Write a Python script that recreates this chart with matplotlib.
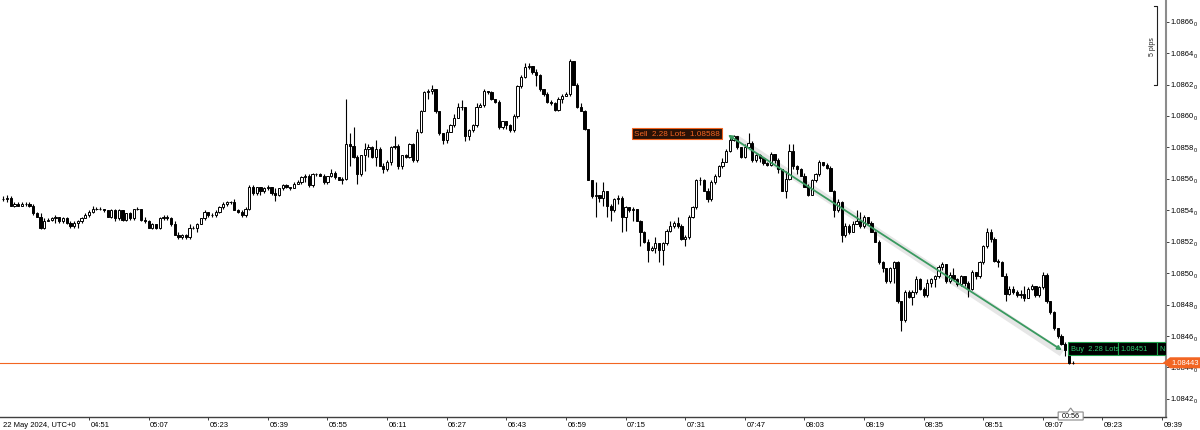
import numpy as np
import matplotlib.pyplot as plt
from matplotlib.patches import Polygon, Rectangle
from matplotlib.lines import Line2D
from matplotlib.transforms import IdentityTransform, ScaledTranslation

plt.rcParams['font.family'] = ['Liberation Sans', 'DejaVu Sans']

# EURUSD M1, one bar per minute starting at 04:28
first_bar = "04:28"
first_open = 1.08547
closes = [
    1.08547, 1.08548, 1.08543, 1.08544, 1.08543, 1.08544, 1.08544, 1.08543, 1.08538, 1.08536,
    1.08529, 1.08533, 1.08534, 1.08535, 1.08536, 1.08533, 1.08535, 1.08532, 1.08530, 1.08532,
    1.08533, 1.08535, 1.08537, 1.08539, 1.08541, 1.08541, 1.08541, 1.08540, 1.08536, 1.08540,
    1.08535, 1.08540, 1.08534, 1.08538, 1.08535, 1.08541, 1.08541, 1.08534, 1.08533, 1.08529,
    1.08531, 1.08529, 1.08535, 1.08536, 1.08535, 1.08531, 1.08524, 1.08523, 1.08524, 1.08523,
    1.08529, 1.08529, 1.08531, 1.08535, 1.08539, 1.08537, 1.08537, 1.08539, 1.08542, 1.08544,
    1.08545, 1.08545, 1.08540, 1.08539, 1.08537, 1.08541, 1.08555, 1.08551, 1.08555, 1.08552,
    1.08554, 1.08555, 1.08551, 1.08550, 1.08554, 1.08556, 1.08555, 1.08554, 1.08557, 1.08558,
    1.08561, 1.08562, 1.08556, 1.08563, 1.08563, 1.08562, 1.08558, 1.08562, 1.08564, 1.08561,
    1.08559, 1.08560, 1.08582, 1.08581, 1.08574, 1.08563, 1.08575, 1.08579, 1.08580, 1.08574,
    1.08579, 1.08568, 1.08566, 1.08571, 1.08580, 1.08581, 1.08568, 1.08575, 1.08574, 1.08582,
    1.08572, 1.08590, 1.08603, 1.08615, 1.08616, 1.08617, 1.08603, 1.08589, 1.08585, 1.08590,
    1.08594, 1.08599, 1.08606, 1.08606, 1.08587, 1.08591, 1.08594, 1.08606, 1.08607, 1.08616,
    1.08615, 1.08611, 1.08609, 1.08593, 1.08597, 1.08594, 1.08591, 1.08600, 1.08619, 1.08625,
    1.08631, 1.08632, 1.08628, 1.08626, 1.08617, 1.08614, 1.08609, 1.08608, 1.08604, 1.08611,
    1.08613, 1.08614, 1.08635, 1.08620, 1.08606, 1.08603, 1.08592, 1.08559, 1.08549, 1.08550,
    1.08548, 1.08552, 1.08543, 1.08540, 1.08547, 1.08548, 1.08536, 1.08542, 1.08540, 1.08541,
    1.08533, 1.08526, 1.08520, 1.08515, 1.08516, 1.08519, 1.08515, 1.08519, 1.08527, 1.08530,
    1.08532, 1.08530, 1.08522, 1.08523, 1.08536, 1.08542, 1.08559, 1.08559, 1.08552, 1.08547,
    1.08558, 1.08562, 1.08568, 1.08571, 1.08578, 1.08585, 1.08587, 1.08580, 1.08574, 1.08580,
    1.08583, 1.08572, 1.08575, 1.08573, 1.08570, 1.08569, 1.08576, 1.08572, 1.08566, 1.08552,
    1.08560, 1.08578, 1.08568, 1.08566, 1.08562, 1.08555, 1.08550, 1.08559, 1.08563, 1.08571,
    1.08569, 1.08567, 1.08552, 1.08540, 1.08545, 1.08524, 1.08530, 1.08526, 1.08531, 1.08533,
    1.08530, 1.08536, 1.08532, 1.08526, 1.08520, 1.08507, 1.08503, 1.08495, 1.08503, 1.08507,
    1.08482, 1.08470, 1.08488, 1.08485, 1.08488, 1.08496, 1.08490, 1.08486, 1.08494, 1.08496,
    1.08498, 1.08504, 1.08506, 1.08495, 1.08499, 1.08496, 1.08493, 1.08498, 1.08494, 1.08490,
    1.08501, 1.08498, 1.08507, 1.08517, 1.08526, 1.08522, 1.08508, 1.08507, 1.08498, 1.08487,
    1.08490, 1.08488, 1.08486, 1.08487, 1.08484, 1.08490, 1.08492, 1.08486, 1.08491, 1.08499,
    1.08482, 1.08475, 1.08465, 1.08460, 1.08455, 1.08451, 1.08443, 1.08443,
]
highs = [
    1.08549, 1.08550, 1.08549, 1.08545, 1.08545, 1.08545, 1.08545, 1.08545, 1.08544, 1.08539,
    1.08538, 1.08535, 1.08535, 1.08536, 1.08537, 1.08536, 1.08536, 1.08536, 1.08533, 1.08533,
    1.08534, 1.08536, 1.08538, 1.08540, 1.08543, 1.08542, 1.08542, 1.08541, 1.08540, 1.08541,
    1.08541, 1.08541, 1.08540, 1.08538, 1.08539, 1.08541, 1.08542, 1.08541, 1.08536, 1.08534,
    1.08532, 1.08531, 1.08536, 1.08537, 1.08537, 1.08536, 1.08533, 1.08526, 1.08525, 1.08525,
    1.08531, 1.08530, 1.08532, 1.08535, 1.08540, 1.08539, 1.08538, 1.08540, 1.08543, 1.08545,
    1.08546, 1.08546, 1.08547, 1.08541, 1.08540, 1.08542, 1.08556, 1.08556, 1.08555, 1.08555,
    1.08555, 1.08556, 1.08555, 1.08554, 1.08554, 1.08557, 1.08557, 1.08555, 1.08558, 1.08559,
    1.08562, 1.08563, 1.08563, 1.08564, 1.08564, 1.08564, 1.08563, 1.08562, 1.08566, 1.08565,
    1.08561, 1.08561, 1.08611, 1.08589, 1.08593, 1.08575, 1.08575, 1.08583, 1.08582, 1.08581,
    1.08585, 1.08580, 1.08570, 1.08572, 1.08581, 1.08587, 1.08582, 1.08575, 1.08576, 1.08583,
    1.08583, 1.08592, 1.08604, 1.08616, 1.08617, 1.08620, 1.08617, 1.08603, 1.08589, 1.08592,
    1.08595, 1.08601, 1.08608, 1.08610, 1.08606, 1.08592, 1.08595, 1.08608, 1.08608, 1.08617,
    1.08616, 1.08616, 1.08611, 1.08610, 1.08597, 1.08597, 1.08595, 1.08601, 1.08620, 1.08626,
    1.08634, 1.08634, 1.08632, 1.08630, 1.08627, 1.08617, 1.08615, 1.08610, 1.08609, 1.08612,
    1.08614, 1.08615, 1.08636, 1.08635, 1.08621, 1.08608, 1.08604, 1.08592, 1.08559, 1.08558,
    1.08550, 1.08558, 1.08552, 1.08544, 1.08548, 1.08550, 1.08549, 1.08543, 1.08542, 1.08542,
    1.08541, 1.08534, 1.08527, 1.08522, 1.08517, 1.08523, 1.08519, 1.08520, 1.08528, 1.08533,
    1.08533, 1.08536, 1.08531, 1.08524, 1.08537, 1.08543, 1.08560, 1.08561, 1.08560, 1.08554,
    1.08559, 1.08563, 1.08569, 1.08573, 1.08579, 1.08587, 1.08588, 1.08587, 1.08580, 1.08582,
    1.08589, 1.08584, 1.08576, 1.08576, 1.08573, 1.08571, 1.08577, 1.08576, 1.08573, 1.08566,
    1.08565, 1.08582, 1.08582, 1.08569, 1.08567, 1.08564, 1.08557, 1.08560, 1.08564, 1.08572,
    1.08571, 1.08570, 1.08568, 1.08553, 1.08547, 1.08546, 1.08532, 1.08531, 1.08533, 1.08540,
    1.08539, 1.08537, 1.08536, 1.08533, 1.08527, 1.08521, 1.08508, 1.08503, 1.08504, 1.08508,
    1.08508, 1.08482, 1.08489, 1.08489, 1.08489, 1.08498, 1.08497, 1.08491, 1.08496, 1.08497,
    1.08499, 1.08505, 1.08507, 1.08506, 1.08501, 1.08503, 1.08497, 1.08499, 1.08498, 1.08495,
    1.08502, 1.08501, 1.08508, 1.08518, 1.08529, 1.08528, 1.08523, 1.08509, 1.08508, 1.08500,
    1.08492, 1.08492, 1.08489, 1.08489, 1.08492, 1.08491, 1.08493, 1.08492, 1.08492, 1.08501,
    1.08500, 1.08482, 1.08476, 1.08465, 1.08461, 1.08456, 1.08451, 1.08444,
]
lows = [
    1.08546, 1.08545, 1.08543, 1.08542, 1.08543, 1.08543, 1.08543, 1.08542, 1.08537, 1.08536,
    1.08528, 1.08528, 1.08533, 1.08533, 1.08532, 1.08532, 1.08532, 1.08531, 1.08529, 1.08529,
    1.08529, 1.08532, 1.08535, 1.08536, 1.08538, 1.08540, 1.08540, 1.08539, 1.08536, 1.08535,
    1.08533, 1.08534, 1.08533, 1.08533, 1.08534, 1.08534, 1.08540, 1.08533, 1.08532, 1.08529,
    1.08528, 1.08528, 1.08528, 1.08534, 1.08534, 1.08530, 1.08524, 1.08522, 1.08522, 1.08522,
    1.08522, 1.08528, 1.08526, 1.08531, 1.08534, 1.08536, 1.08536, 1.08536, 1.08538, 1.08541,
    1.08543, 1.08544, 1.08540, 1.08538, 1.08536, 1.08536, 1.08540, 1.08550, 1.08550, 1.08550,
    1.08551, 1.08553, 1.08550, 1.08546, 1.08549, 1.08553, 1.08554, 1.08553, 1.08554, 1.08557,
    1.08557, 1.08558, 1.08555, 1.08555, 1.08562, 1.08562, 1.08557, 1.08557, 1.08561, 1.08560,
    1.08559, 1.08557, 1.08559, 1.08568, 1.08573, 1.08557, 1.08562, 1.08565, 1.08574, 1.08573,
    1.08568, 1.08568, 1.08564, 1.08565, 1.08569, 1.08579, 1.08566, 1.08566, 1.08573, 1.08573,
    1.08571, 1.08571, 1.08589, 1.08603, 1.08611, 1.08614, 1.08602, 1.08588, 1.08582, 1.08583,
    1.08590, 1.08593, 1.08599, 1.08604, 1.08584, 1.08585, 1.08590, 1.08593, 1.08606, 1.08606,
    1.08614, 1.08610, 1.08608, 1.08592, 1.08592, 1.08592, 1.08590, 1.08590, 1.08599, 1.08618,
    1.08624, 1.08630, 1.08627, 1.08619, 1.08616, 1.08613, 1.08608, 1.08607, 1.08603, 1.08603,
    1.08608, 1.08613, 1.08613, 1.08620, 1.08605, 1.08603, 1.08591, 1.08559, 1.08548, 1.08536,
    1.08545, 1.08543, 1.08536, 1.08533, 1.08539, 1.08544, 1.08526, 1.08527, 1.08539, 1.08533,
    1.08533, 1.08517, 1.08519, 1.08507, 1.08514, 1.08513, 1.08507, 1.08505, 1.08518, 1.08526,
    1.08529, 1.08529, 1.08521, 1.08517, 1.08522, 1.08535, 1.08541, 1.08556, 1.08552, 1.08545,
    1.08546, 1.08557, 1.08561, 1.08567, 1.08571, 1.08577, 1.08584, 1.08579, 1.08573, 1.08573,
    1.08580, 1.08571, 1.08571, 1.08571, 1.08569, 1.08568, 1.08568, 1.08570, 1.08564, 1.08552,
    1.08548, 1.08559, 1.08566, 1.08563, 1.08562, 1.08555, 1.08549, 1.08550, 1.08558, 1.08562,
    1.08568, 1.08566, 1.08552, 1.08536, 1.08539, 1.08520, 1.08523, 1.08525, 1.08526, 1.08531,
    1.08529, 1.08529, 1.08531, 1.08526, 1.08520, 1.08506, 1.08501, 1.08494, 1.08494, 1.08494,
    1.08481, 1.08463, 1.08469, 1.08484, 1.08480, 1.08487, 1.08489, 1.08485, 1.08485, 1.08491,
    1.08491, 1.08497, 1.08502, 1.08494, 1.08494, 1.08496, 1.08492, 1.08492, 1.08492, 1.08485,
    1.08489, 1.08496, 1.08497, 1.08506, 1.08516, 1.08520, 1.08507, 1.08504, 1.08498, 1.08482,
    1.08486, 1.08487, 1.08485, 1.08484, 1.08482, 1.08484, 1.08489, 1.08485, 1.08485, 1.08490,
    1.08481, 1.08474, 1.08464, 1.08459, 1.08454, 1.08447, 1.08442, 1.08442,
]

date_label = "22 May 2024, UTC+0"
time_ticks = ["04:51", "05:07", "05:23", "05:39", "05:55", "06:11", "06:27", "06:43",
              "06:59", "07:15", "07:31", "07:47", "08:03", "08:19", "08:35", "08:51",
              "09:07", "09:23", "09:39"]
price_ticks = [1.0842, 1.0844, 1.0846, 1.0848, 1.0850, 1.0852, 1.0854,
               1.0856, 1.0858, 1.0860, 1.0862, 1.0864, 1.0866]

sell_time, sell_price = "07:42:30", 1.08588
buy_time, buy_price = "09:12:06", 1.08451
lots = 2.28
net_profit = 312.36
bid = 1.08443
bar_timer = "00:56"
pip_top, pip_bottom = 1.08670, 1.08620

ORANGE = '#f26522'
GREEN = '#3a9a60'
FS = 5.5


def bar_index(t):
    parts = [int(p) for p in t.split(":")]
    secs = parts[2] if len(parts) > 2 else 0
    h0, m0 = [int(p) for p in first_bar.split(":")]
    return parts[0] * 60 + parts[1] + secs / 60 - (h0 * 60 + m0)


W, H = 1200, 431
fig = plt.figure(figsize=(W / 100, H / 100), dpi=100)
ax = fig.add_axes([0, 13 / H, 1166 / W, 418 / H])
ax.set_xlim(-0.89, 312.05)
ax.set_ylim(1.084085, 1.086744)

c = np.array(closes)
hi = np.array(highs)
lo = np.array(lows)
o = np.concatenate([[first_open], c[:-1]])
idx = np.arange(len(c))
up = c >= o

ax.vlines(idx, lo, hi, color='black', lw=0.8, zorder=2)
ax.bar(idx[up], (c - o)[up], bottom=o[up], width=0.6, color='white',
       edgecolor='black', lw=0.7, zorder=3)
ax.bar(idx[~up], (o - c)[~up], bottom=c[~up], width=0.6, color='black',
       edgecolor='black', lw=0.7, zorder=3)

ax.axhline(bid, color=ORANGE, lw=0.8, zorder=1.5)

# axes look
for s in ['top', 'left']:
    ax.spines[s].set_visible(False)
ax.spines['right'].set_color('#8c8c8c')
ax.spines['right'].set_linewidth(1.5)
ax.spines['bottom'].set_color('#404040')
ax.spines['bottom'].set_linewidth(1.0)
ax.yaxis.tick_right()
ax.set_yticks(price_ticks)
ax.tick_params(axis='y', direction='out', length=2.5, width=0.7, color='#404040',
               labelright=False, labelleft=False)
ax.set_xticks([bar_index(t) for t in time_ticks])
ax.tick_params(axis='x', direction='out', length=2.5, width=0.7, color='#404040',
               labelbottom=False)

for t in time_ticks:
    ax.annotate(t, xy=(bar_index(t), 0), xycoords=('data', 'axes fraction'),
                xytext=(1.5, -4), textcoords='offset pixels', ha='left', va='top',
                fontsize=FS, annotation_clip=False)
ax.annotate(date_label, xy=(0, 0), xycoords='axes fraction', xytext=(3, -4),
            textcoords='offset pixels', ha='left', va='top', fontsize=FS,
            annotation_clip=False)
for p in price_ticks:
    ax.annotate(f"{p:.4f}", xy=(1, p), xycoords=('axes fraction', 'data'),
                xytext=(4, 0), textcoords='offset pixels', ha='left', va='center',
                fontsize=FS, annotation_clip=False)
    ax.annotate("0", xy=(1, p), xycoords=('axes fraction', 'data'),
                xytext=(28, -2), textcoords='offset pixels', ha='left', va='center',
                fontsize=4.0, annotation_clip=False)

# trade line sell -> buy
xs, xb = bar_index(sell_time), bar_index(buy_time)
shade = ax.transData + ScaledTranslation(0, -3 / 100, fig.dpi_scale_trans)
ax.plot([xs + 2, xb], [sell_price, buy_price], color='#e6e6e6', lw=5,
        solid_capstyle='butt', transform=shade, zorder=1)
ax.annotate('', xy=(xs, sell_price), xytext=(xb, buy_price),
            arrowprops=dict(arrowstyle='<|-|>', color=GREEN, lw=1.3,
                            mutation_scale=6, shrinkA=0, shrinkB=0), zorder=4)

px = ax.transData.transform
ident = IdentityTransform()
ax_right = ax.bbox.x1

sx, sy = px((xs, sell_price))
fig.text(sx - 8, sy + 1.5, f"Sell  {lots:.2f} Lots  {sell_price:.5f}", transform=ident,
         ha='right', va='center', fontsize=5.9, color=ORANGE,
         bbox=dict(boxstyle='square,pad=0.25', fc='#2a1206', ec=ORANGE, lw=0.8))

bx, by = px((xb, buy_price))
left, yc, bh = bx + 6, by + 1.5, 13
cells = [(f"Buy  {lots:.2f} Lots", 50), (f"{buy_price:.5f}", 39), (f"Net {net_profit:.2f}", 60)]
x0 = left
for label, w in cells:
    r = Rectangle((x0, yc - bh / 2), w, bh, transform=ident, fc='black', ec='#1e9e4a',
                  lw=0.8, zorder=5)
    r.set_clip_box(ax.bbox)
    fig.add_artist(r)
    tx = fig.text(x0 + 3, yc, label, transform=ident, ha='left', va='center',
                  fontsize=5.4, color='#2ecc71', zorder=6)
    tx.set_clip_box(ax.bbox)
    tx.set_clip_on(True)
    x0 += w

# current bid tag
_, py = px((0, bid))
fig.add_artist(Polygon([(ax_right - 3, py), (ax_right + 4, py + 5.5), (W, py + 5.5),
                        (W, py - 5.5), (ax_right + 4, py - 5.5)], closed=True,
                       transform=ident, fc=ORANGE, ec='none', zorder=5))
fig.text((ax_right + 4 + W) / 2, py, f"{bid:.5f}", transform=ident, ha='center',
         va='center', fontsize=FS, color='white', zorder=6)

# bar timer under the last candle
lx, _ = px((idx[-1], bid))
cx = lx - 2
fig.add_artist(Polygon([(cx - 12.5, 10), (cx + 12.5, 10), (cx + 12.5, 18), (cx + 3, 18),
                        (cx, 22), (cx - 3, 18), (cx - 12.5, 18)], closed=True,
                       transform=ident, fc='white', ec='#8a8a8a', lw=0.8, zorder=5))
fig.text(cx, 14, bar_timer, transform=ident, ha='center', va='center', fontsize=5.2,
         color='black', zorder=6)

# pip ruler
_, yt = px((0, pip_top))
_, yb = px((0, pip_bottom))
rx = ax_right - 9
fig.add_artist(Line2D([rx - 3, rx, rx, rx - 3], [yt, yt, yb, yb], transform=ident,
                      color='#202020', lw=0.8))
n_pips = round((pip_top - pip_bottom) / 0.0001)
fig.text(rx - 5, (yt + yb) / 2, f"{n_pips} pips", rotation=90, transform=ident,
         ha='center', va='center', fontsize=5.0, color='#202020')

fig.savefig('out.png', dpi=100)
